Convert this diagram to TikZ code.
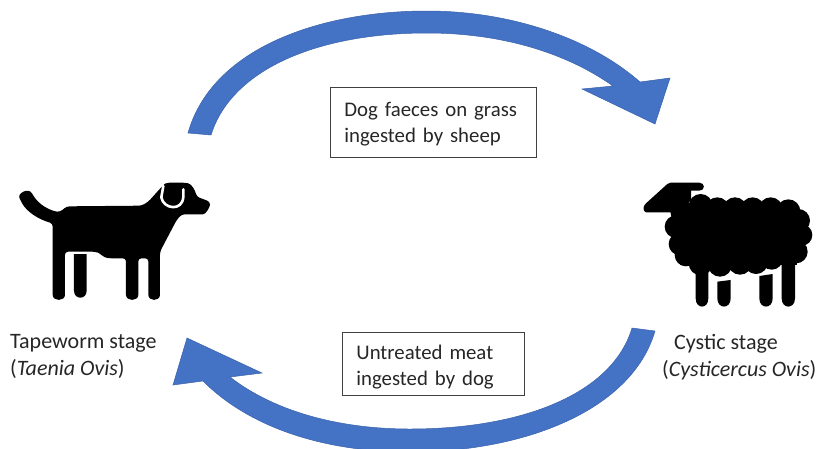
\documentclass[tikz,border=0pt]{standalone}
\usepackage{fontspec}
\setmainfont{Carlito}
\usepackage{tikz}
\usetikzlibrary{positioning}
\definecolor{arrowblue}{HTML}{4472C4}
\definecolor{arrowedge}{HTML}{3A62AC}
\definecolor{boxedge}{HTML}{404040}
\begin{document}
\begin{tikzpicture}[
			x=1pt,
			y=-1pt,
			textbox/.style={
				draw=boxedge,
				line width=0.8pt,
				align=left,
				inner xsep=14pt,
				inner ysep=0pt,
				font=\fontsize{20.8}{26.5}\selectfont,
				text=black!85
			},
			stagelabel/.style={
				align=left,
				inner sep=0pt,
				font=\fontsize{22}{27}\selectfont,
				text=black!85
			},
			bigarrow/.style={
				fill=arrowblue,
				draw=arrowedge,
				line width=0.5pt
			},
			zoomed/.style={
				scale=1/3
			}
			]
			
			\useasboundingbox (0,0) rectangle (824,448);
			\clip (0,0) rectangle (824,448);
			
			%%%%%%%%%%%%%%%%%%%%%%%%%%%%%%%%%%%%%%%%%%%%%%%%%%%%%%%%%%%%
			% Arrows
			%%%%%%%%%%%%%%%%%%%%%%%%%%%%%%%%%%%%%%%%%%%%%%%%%%%%%%%%%%%%
			
			% Dog to sheep
			
			\draw[bigarrow] (188,133) .. controls (212,48) and (320,11) .. (427,11)
			.. controls (510,11) and (590,38) .. (640,82)
			-- (670,78) -- (655,124) -- (582,89) -- (613,86)
			.. controls (565,52) and (500,33) .. (427,33)
			.. controls (320,33) and (232,68) .. (211,135) -- cycle;
			
			% Sheep to dog
			
			\draw[bigarrow] (655,331) .. controls (632,410) and (525,452) .. (410,452)
			.. controls (325,452) and (250,428) .. (203,381)
			-- (173,385) -- (187,338) -- (262,373) -- (230,377)
			.. controls (275,412) and (340,429) .. (410,429)
			.. controls (520,429) and (612,395) .. (632,328) -- cycle;
			
			%%%%%%%%%%%%%%%%%%%%%%%%%%%%%%%%%%%%%%%%%%%%%%%%%%%%%%%%%%%%
			% Dog
			%%%%%%%%%%%%%%%%%%%%%%%%%%%%%%%%%%%%%%%%%%%%%%%%%%%%%%%%%%%%
			
			\begin{scope}[shift={(0,170)},zoomed]
				\fill[black,rounded corners=3pt] (158,160) .. controls (115,148) and (80,125) .. (62,92)
				.. controls (52,70) and (85,52) .. (100,77)
				.. controls (120,105) and (150,122) .. (180,126)
				-- (200,109) -- (425,107) -- (445,95) -- (490,45) -- (500,38) -- (555,38)
				.. controls (575,42) and (585,60) .. (590,80)
				-- (630,95) .. controls (630,110) and (618,133) .. (600,133)
				-- (545,133) -- (530,150) -- (480,245)
				-- (480,365) .. controls (480,395) and (445,395) .. (445,365)
				-- (445,265) -- (415,265)
				-- (415,365) .. controls (415,395) and (378,395) .. (378,365)
				-- (378,265) -- (330,265) .. controls (310,262) and (300,250) .. (285,245)
				-- (195,245)
				-- (195,365) .. controls (195,395) and (158,395) .. (158,365) -- cycle;
				\fill[black] (222,252) -- (260,252) -- (260,362)
				.. controls (260,390) and (222,390) .. (222,362) -- cycle;
				\draw[white,line width=2.6pt,line cap=round] (490,48) -- (484,82)
				.. controls (490,118) and (548,125) .. (550,80) -- (550,58);
			\end{scope}
			
			%%%%%%%%%%%%%%%%%%%%%%%%%%%%%%%%%%%%%%%%%%%%%%%%%%%%%%%%%%%%
			% Sheep
			%%%%%%%%%%%%%%%%%%%%%%%%%%%%%%%%%%%%%%%%%%%%%%%%%%%%%%%%%%%%
			
			\begin{scope}[shift={(630,170)},zoomed]
				\fill[black] (48,127) .. controls (38,124) and (38,108) .. (48,100)
				-- (112,42) .. controls (116,38) .. (122,38) -- (208,38)
				.. controls (226,38) and (226,62) .. (208,62) -- (183,62) -- (183,90) -- (150,127) -- cycle;
				\fill[black] (150,110) rectangle (500,285);
				\foreach \bx/\by/\br in {212/108/36,262/118/36,315/118/36,368/118/36,422/118/36,475/124/36,
					505/152/35,515/195/32,498/245/35,470/262/25,425/265/34,378/276/36,330/278/36,
					270/284/36,212/280/36,168/255/34,150/222/34,138/170/34,155/125/34} {
					\fill[black] (\bx,\by) circle[radius=\br];
				}
				\foreach \lxa/\lxb/\lya/\lyb in {197/235/290/290,262/302/335/330,388/428/318/312,455/495/270/270} {
					\fill[black] (\lxa,\lya) -- (\lxb,\lyb) -- (\lxb,385)
					.. controls (\lxb,418) and (\lxa,418) .. (\lxa,385) -- cycle;
				}
			\end{scope}
			
			%%%%%%%%%%%%%%%%%%%%%%%%%%%%%%%%%%%%%%%%%%%%%%%%%%%%%%%%%%%%
			% Text boxes
			%%%%%%%%%%%%%%%%%%%%%%%%%%%%%%%%%%%%%%%%%%%%%%%%%%%%%%%%%%%%
			
			\node (grass) [textbox,minimum width=206pt,minimum height=70pt,text width=178pt,anchor=north west] at (330,87)
			{\rule{0pt}{17.5pt}Dog faeces on grass\\ingested by sheep};
			
			\node (meat) [textbox,minimum width=182pt,minimum height=63pt,text width=154pt,anchor=north west] at (342,332)
			{\rule{0pt}{21pt}Untreated meat\\ingested by dog};
			
			%%%%%%%%%%%%%%%%%%%%%%%%%%%%%%%%%%%%%%%%%%%%%%%%%%%%%%%%%%%%
			% Stage labels
			%%%%%%%%%%%%%%%%%%%%%%%%%%%%%%%%%%%%%%%%%%%%%%%%%%%%%%%%%%%%
			
			\node (tapeworm) [stagelabel,anchor=north west] at (10,334)
			{Tapeworm stage\\(\textit{Taenia Ovis})};
			
			\node (cystic) [stagelabel,anchor=north west] at (662,334)
			{\hspace{12pt}Cystic stage\\(\textit{Cysticercus Ovis})};
			
		\end{tikzpicture}
\end{document}
